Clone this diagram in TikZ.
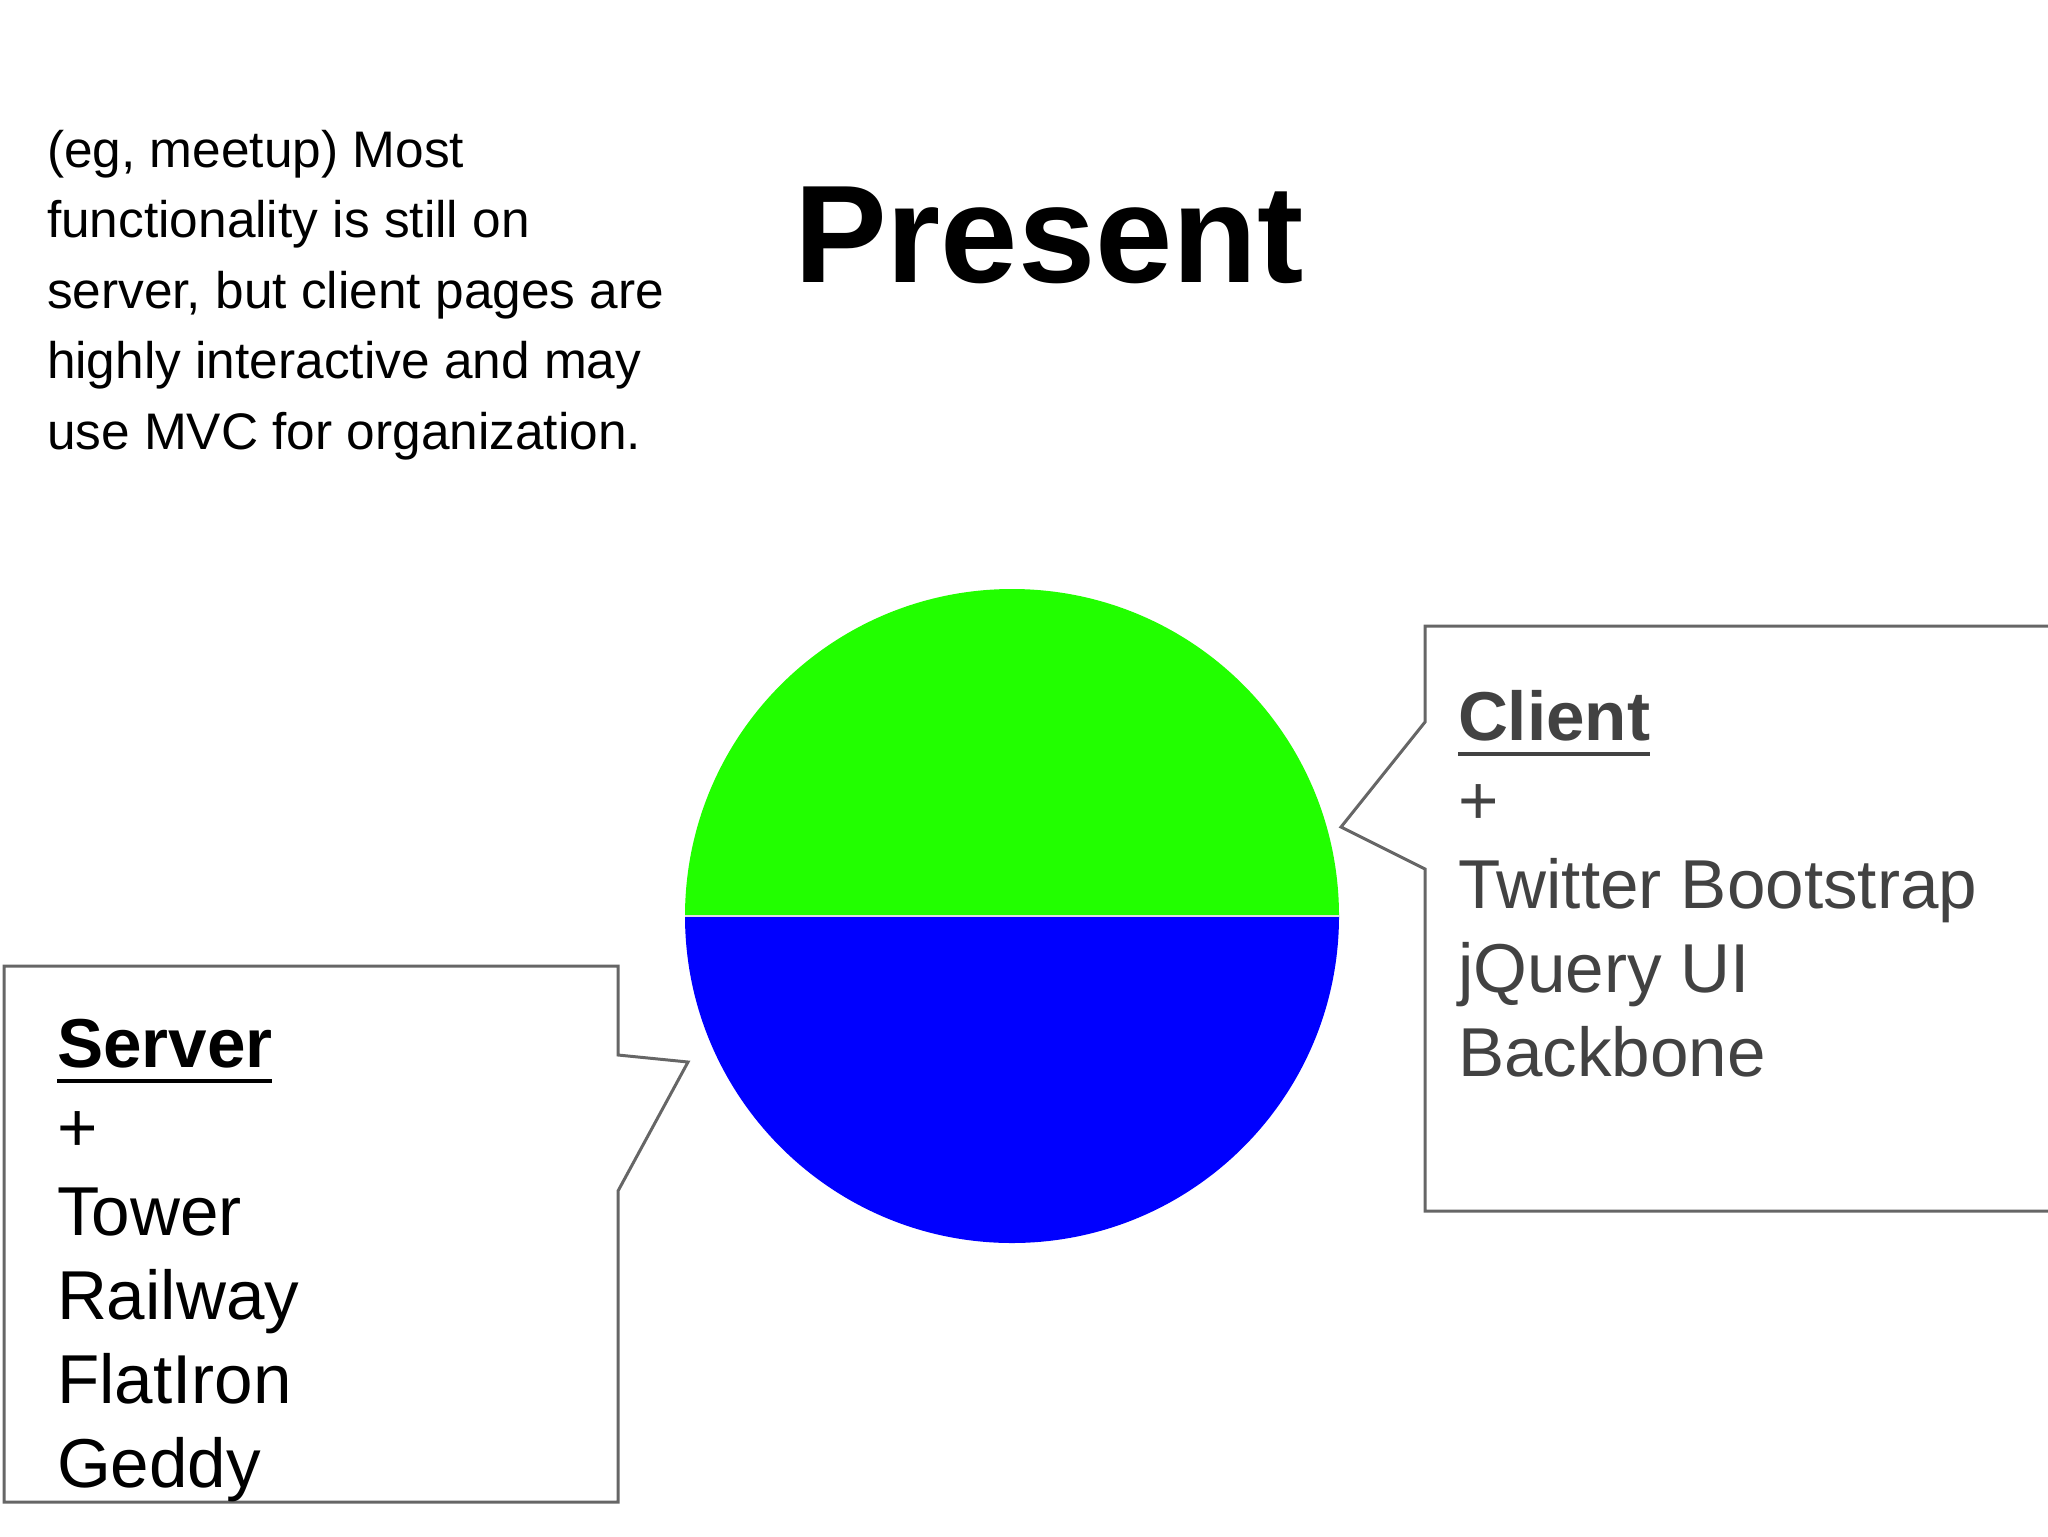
\documentclass[tikz,border=0pt]{standalone}
\usepackage{fontspec}
\setmainfont{Liberation Sans}
\definecolor{topgreen}{HTML}{22FF00}
\definecolor{botblue}{HTML}{0000FF}
\definecolor{boxgray}{HTML}{666666}
\definecolor{clienttext}{HTML}{424242}
\begin{document}
\begin{tikzpicture}[x=0.5pt,y=-0.5pt,
  txt/.style={anchor=base west,inner sep=0pt,outer sep=0pt},
  para/.style={txt,font=\fontsize{25.7}{30}\selectfont},
  item/.style={txt,font=\fontsize{34.6}{40}\selectfont},
  head/.style={txt,font=\fontsize{34.6}{40}\selectfont\bfseries},
  callout/.style={draw=boxgray,line width=1.5pt,line join=miter},
  uline/.style={line width=2.2pt}]
\useasboundingbox (0,0) rectangle (2048,1536);
\clip (0,0) rectangle (2048,1536);

% title
\node[txt,font=\fontsize{69.5}{80}\selectfont\bfseries] (title) at (794,282) {Present};

% paragraph
\node[para] (p1) at (47,167) {(eg, meetup) Most};
\node[para] (p2) at (47,237) {functionality is still on};
\node[para] (p3) at (47,308) {server, but client pages are};
\node[para] (p4) at (47,378) {highly interactive and may};
\node[para] (p5) at (47,449) {use MVC for organization.};

% circle
\coordinate (ctr) at (1012,916);
\fill[topgreen] (685,916) arc[start angle=180,end angle=360,radius=327] -- cycle;
\fill[botblue] (685,916) arc[start angle=180,end angle=0,radius=327] -- cycle;
\draw[white!75!gray,line width=1pt] (685,916) -- (1339,916);

% client callout
\coordinate (ctip) at (1341,827);
\draw[callout] (2070,626) -- (1425,626) -- (1425,722) -- (ctip) -- (1425,869) -- (1425,1211) -- (2070,1211);
\node[head,text=clienttext] (client) at (1458,740) {Client};
\draw[uline,clienttext] ([yshift=-7]client.base west) -- ([yshift=-7]client.base east);
\node[item,text=clienttext] (cplus) at (1458,824) {+};
\node[item,text=clienttext] (c1) at (1458,908) {Twitter Bootstrap};
\node[item,text=clienttext] (c2) at (1458,992) {jQuery UI};
\node[item,text=clienttext] (c3) at (1458,1076) {Backbone};

% server callout
\coordinate (stip) at (688,1062);
\draw[callout] (4,966) -- (618,966) -- (618,1055) -- (stip) -- (618,1191) -- (618,1502) -- (4,1502) -- cycle;
\node[head] (server) at (57,1067) {Server};
\draw[uline] ([yshift=-7]server.base west) -- ([yshift=-7]server.base east);
\node[item] (splus) at (57,1151) {+};
\node[item] (s1) at (57,1235) {Tower};
\node[item] (s2) at (57,1319) {Railway};
\node[item] (s3) at (57,1403) {FlatIron};
\node[item] (s4) at (57,1487) {Geddy};
\end{tikzpicture}
\end{document}
